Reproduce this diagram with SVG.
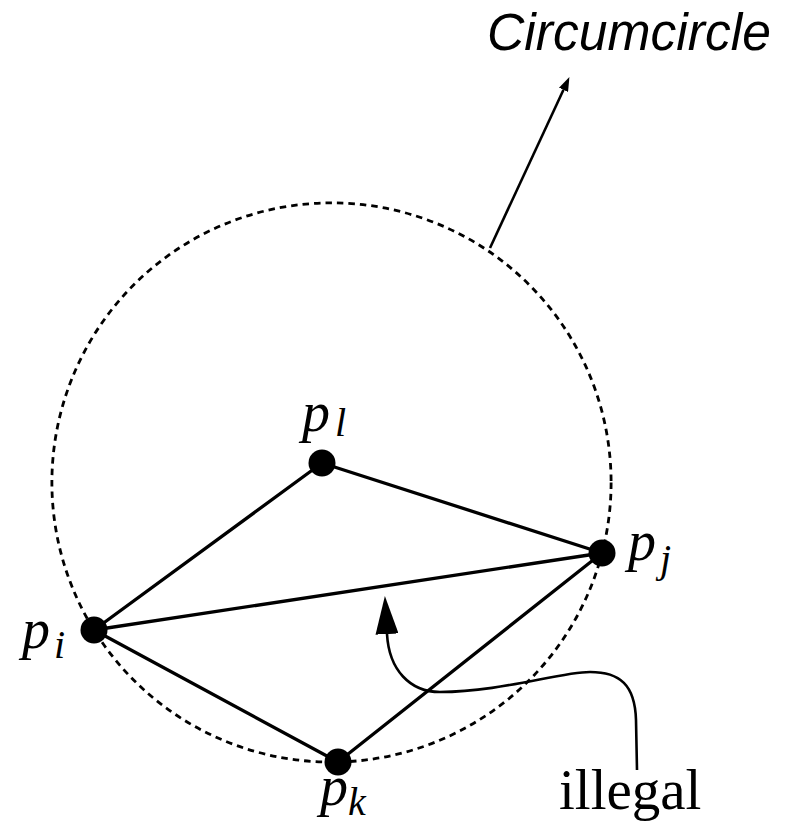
<svg xmlns="http://www.w3.org/2000/svg" width="794" height="823" viewBox="0 0 794 823">
  <defs>
    <style>
      .edge { stroke: #000; stroke-width: 3.3; fill: none; stroke-linecap: round; }
      .circ { stroke: #000; stroke-width: 2.8; fill: none; stroke-dasharray: 6.5 5; }
      .lead { stroke: #000; stroke-width: 2.6; fill: none; }
      .dot { fill: #000; }
      .pl { font-family: "Liberation Serif", "Times New Roman", serif; font-style: italic; fill: #000; }
      .main { font-size: 56px; }
      .sub { font-size: 40px; }
      .title { font-family: "Liberation Sans", Arial, sans-serif; font-style: italic; font-size: 51px; fill: #000; }
      .word { font-family: "Liberation Serif", "Times New Roman", serif; font-size: 57px; fill: #000; }
    </style>
    <marker id="smallHead" markerUnits="userSpaceOnUse" markerWidth="14" markerHeight="10" viewBox="0 0 14 10" refX="0" refY="5" orient="auto">
      <path d="M0,0 L14,5 L0,10 z" fill="#000"/>
    </marker>
    <marker id="bigHead" markerUnits="userSpaceOnUse" markerWidth="38" markerHeight="23" viewBox="0 0 38 23" refX="0" refY="11.5" orient="auto">
      <path d="M0,0 L38,11.5 L0,23 z" fill="#000"/>
    </marker>
  </defs>
  <rect width="794" height="823" fill="#fff"/>

  <g id="circumcircle">
    <circle class="circ" cx="331.5" cy="482.5" r="279.6"/>
  </g>

  <g id="connectors">
    <line class="edge" x1="94" y1="630" x2="322" y2="463"/>
    <line class="edge" x1="322" y1="463" x2="602" y2="553"/>
    <line class="edge" x1="94" y1="630" x2="602" y2="553"/>
    <line class="edge" x1="94" y1="630" x2="338" y2="762"/>
    <line class="edge" x1="338" y1="762" x2="602" y2="553"/>
    <path class="lead" d="M490,248 L563.5,89.8" marker-end="url(#smallHead)"/>
    <path class="lead" d="M637,770 L636,720 C635,685 620,672 590,672 C560,672 500,692 440,692 C410,692 389,670 387,634" marker-end="url(#bigHead)"/>
  </g>

  <g id="node-pi">
    <circle class="dot" cx="94" cy="630" r="13.5"/>
    <text class="pl main" x="22" y="648">p</text>
    <text class="pl sub" x="54" y="658">i</text>
  </g>
  <g id="node-pl">
    <circle class="dot" cx="322" cy="463" r="13.5"/>
    <text class="pl main" x="302" y="431">p</text>
    <text class="pl sub" x="335" y="436">l</text>
  </g>
  <g id="node-pj">
    <circle class="dot" cx="602" cy="553" r="13.5"/>
    <text class="pl main" x="628" y="560">p</text>
    <text class="pl sub" x="660" y="572">j</text>
  </g>
  <g id="node-pk">
    <circle class="dot" cx="338" cy="762" r="13.5"/>
    <text class="pl main" x="320" y="805">p</text>
    <text class="pl sub" x="348" y="815">k</text>
  </g>

  <g id="label-circumcircle">
    <text class="title" x="487" y="50" textLength="284" lengthAdjust="spacingAndGlyphs">Circumcircle</text>
  </g>
  <g id="label-illegal">
    <text class="word" x="559" y="809">illegal</text>
  </g>
</svg>
